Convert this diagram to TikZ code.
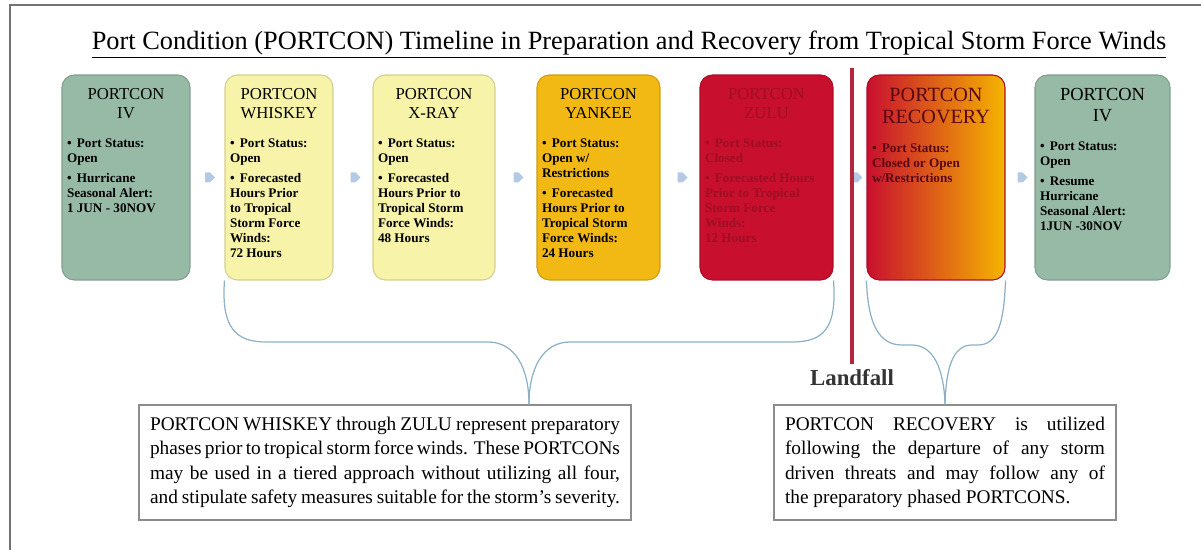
\documentclass[tikz,border=0pt]{standalone}
\usepackage{fontspec}
\setmainfont{Liberation Serif}
\usetikzlibrary{calc,shapes.arrows}

\definecolor{ivgreen}{HTML}{97BAA7}
\definecolor{wyellow}{HTML}{F7F3A9}
\definecolor{ygold}{HTML}{F2B915}
\definecolor{zred}{HTML}{C8102E}
\definecolor{rgold}{HTML}{F5B400}
\definecolor{chevblue}{HTML}{B4C9E4}
\definecolor{braceblue}{HTML}{8DB0C6}
\definecolor{lfred}{HTML}{B4263E}

\newcommand{\cardhead}{\fontsize{9.5}{11}\selectfont}
\newcommand{\cardbody}{\fontsize{7.5}{8.5}\selectfont\bfseries}
\newcommand{\pt}[1]{\par\hangindent=0.75em\hangafter=1\noindent\makebox[0.75em][l]{\textbullet}#1\par\vspace{3pt}}
\newcommand{\card}[3]{\parbox[c][3.86cm][t]{#1}{\vspace*{4pt}\centering\cardhead #2\par\vspace{8pt}\raggedright\cardbody #3}}

\tikzset{
  card/.style={draw=#1!85!black, fill=#1, rounded corners=7pt, inner xsep=0.1cm, inner ysep=0.12cm, line width=0.6pt},
  chev/.style={single arrow, fill=chevblue, draw=none, minimum width=0.2cm, minimum height=0.2cm, single arrow head extend=0pt, inner sep=0pt},
  brace/.style={draw=braceblue, line width=0.7pt},
  note/.style={draw=black!45, fill=white, line width=0.7pt, minimum height=2.3cm, inner xsep=0.22cm},
}

\begin{document}
\begin{tikzpicture}[x=0.02cm,y=-0.02cm]
\useasboundingbox (0,0) rectangle (1201,550);
\draw[black!55,line width=0.8pt] (10,550) -- (10,5) -- (1201,5);

\node (title) at (629,45) {\fontsize{15}{17}\selectfont\underline{Port Condition (PORTCON) Timeline in Preparation and Recovery from Tropical Storm Force Winds}};

% phase cards
\node[card=ivgreen] (iv1) at (126,177.5) {\card{2.36cm}{PORTCON\\IV}{\pt{Port Status:\\Open}\pt{Hurricane\\Seasonal Alert:\\1 JUN - 30NOV}}};
\node[card=wyellow] (wsk) at (279,177.5) {\card{1.96cm}{PORTCON\\WHISKEY}{\pt{Port Status:\\Open}\pt{Forecasted\\Hours Prior\\to Tropical\\Storm Force\\Winds:\\72 Hours}}};
\node[card=wyellow] (xray) at (434,177.5) {\card{2.24cm}{PORTCON\\X-RAY}{\pt{Port Status:\\Open}\pt{Forecasted\\Hours Prior to\\Tropical Storm\\Force Winds:\\48 Hours}}};
\node[card=ygold] (yank) at (598.5,177.5) {\card{2.26cm}{PORTCON\\YANKEE}{\pt{Port Status:\\Open w/\\Restrictions}\pt{Forecasted\\Hours Prior to\\Tropical Storm\\Force Winds:\\24 Hours}}};
\node[card=zred,text=zred!80!black] (zulu) at (766.5,177.5) {\card{2.46cm}{PORTCON\\ZULU}{\pt{Port Status:\\Closed}\pt{Forecasted Hours\\Prior to Tropical\\Storm Force\\Winds:\\12 Hours}}};
\node[card=zred,left color=zred,middle color=zred!80!rgold,right color=rgold,text=zred!45!black] (recov) at (936,177.5) {\card{2.56cm}{\fontsize{11.5}{12.5}\selectfont PORTCON\\RECOVERY}{\pt{Port Status:\\Closed or Open\\w/Restrictions}}};
\node[card=ivgreen] (iv2) at (1102.5,177.5) {\card{2.5cm}{\fontsize{10.5}{12}\selectfont PORTCON\\IV}{\pt{Port Status:\\Open}\pt{Resume\\Hurricane\\Seasonal Alert:\\1JUN -30NOV}}};

\node[chev] at ($(iv1.east)!.5!(wsk.west)$) {};
\node[chev] at ($(wsk.east)!.5!(xray.west)$) {};
\node[chev] at ($(xray.east)!.5!(yank.west)$) {};
\node[chev] at ($(yank.east)!.5!(zulu.west)$) {};
\node[chev] at ($(zulu.east)!.65!(recov.west)$) {};
\node[chev] at ($(recov.east)!.5!(iv2.west)$) {};

% landfall
\coordinate (lftop) at (852,68);
\node[font=\fontsize{13}{15}\selectfont\bfseries,text=black!80] (lf) at (852,378) {Landfall};
\draw[lfred,line width=1.8pt] (lftop) -- (lf.north);

% notes
\node[note] (note1) at (385,462.5) {\parbox{9.4cm}{\fontsize{11}{13.9}\selectfont\parfillskip=0pt PORTCON WHISKEY through ZULU represent preparatory\linebreak phases prior to tropical storm force winds. These PORTCONs\linebreak may be used in a tiered approach without utilizing all four,\linebreak and stipulate safety measures suitable for the storm's severity.}};
\node[note] (note2) at (945,462.5) {\parbox{6.4cm}{\fontsize{11}{13.9}\selectfont PORTCON RECOVERY is utilized\linebreak following the departure of any storm\linebreak driven threats and may follow any of\linebreak the preparatory phased PORTCONS.}};

% braces
\coordinate (tip1) at ($(wsk.south west)!.5!(zulu.south east)$);
\draw[brace] (wsk.south west) .. controls (221,328) and (236,342) .. (266,342) -- (488,342) .. controls (515,342) and (529,368) .. (tip1 |- note1.north);
\draw[brace] (tip1 |- note1.north) .. controls (529,368) and (543,342) .. (570,342) -- (792,342) .. controls (824,342) and (837,328) .. (zulu.south east);
\draw[brace] (recov.south west) .. controls (868,326) and (880,345) .. (902,345) -- (912,345) .. controls (934,345) and (944,370) .. (note2.north);
\draw[brace] (note2.north) .. controls (946,370) and (952,345) .. (972,345) -- (978,345) .. controls (998,345) and (1004,322) .. (recov.south east);
\end{tikzpicture}
\end{document}
